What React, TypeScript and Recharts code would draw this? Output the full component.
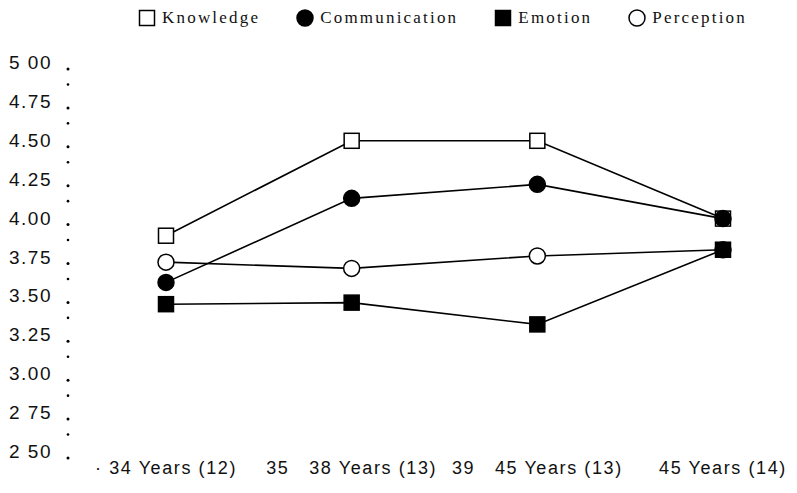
import { Legend, Line, LineChart, XAxis, YAxis } from "recharts";

const categories = ["· 34 Years (12)", "35   38 Years (13)", "39   45 Years (13)", "45 Years (14)"];
const knowledge = [3.89, 4.5, 4.5, 4.0];
const communication = [3.59, 4.13, 4.22, 4.0];
const emotion = [3.45, 3.46, 3.32, 3.8];
const perception = [3.72, 3.68, 3.76, 3.8];

const yTicks = [2.5, 2.625, 2.75, 2.875, 3.0, 3.125, 3.25, 3.375, 3.5, 3.625, 3.75, 3.875, 4.0, 4.125, 4.25, 4.375, 4.5, 4.625, 4.75, 4.875, 5.0];
const yLabels: Record<string, string> = {
  "2.5": "2 50",
  "2.75": "2 75",
  "3": "3.00",
  "3.25": "3.25",
  "3.5": "3.50",
  "3.75": "3.75",
  "4": "4.00",
  "4.25": "4.25",
  "4.5": "4.50",
  "4.75": "4.75",
  "5": "5 00",
};

const seriesNames = ["Knowledge", "Communication", "Emotion", "Perception"];

const data = categories.map((c, i) => ({
  name: c,
  knowledge: knowledge[i],
  communication: communication[i],
  emotion: emotion[i],
  perception: perception[i],
}));

type Kind = "openSquare" | "circle" | "square" | "openCircle";
const kinds: Kind[] = ["openSquare", "circle", "square", "openCircle"];

// drawn in this order so the filled marks sit on top where they overlap
const drawOrder = [0, 3, 1, 2];
const keys = ["knowledge", "communication", "emotion", "perception"];

function Marker({ kind, cx, cy }: { kind: Kind; cx: number; cy: number }) {
  if (kind === "openSquare" || kind === "square") {
    return (
      <rect
        x={cx - 7.5}
        y={cy - 7.5}
        width={15}
        height={15}
        fill={kind === "square" ? "#000" : "#fff"}
        stroke="#000"
        strokeWidth={1.5}
      />
    );
  }
  return (
    <circle
      cx={cx}
      cy={cy}
      r={8}
      fill={kind === "circle" ? "#000" : "#fff"}
      stroke="#000"
      strokeWidth={1.5}
    />
  );
}

function makeDot(kind: Kind) {
  return (props: any) => {
    const { cx, cy, index } = props;
    if (cx == null || cy == null) return <g key={index} />;
    return (
      <g key={`${kind}-${index}`}>
        <Marker kind={kind} cx={cx} cy={cy} />
      </g>
    );
  };
}

function YTick(props: any) {
  const { x, y, payload } = props;
  const label = yLabels[String(payload.value)];
  if (!label) {
    return <circle cx={x - 4} cy={y + 2} r={1.3} fill="#000" />;
  }
  return (
    <g>
      <text
        x={x - 20}
        y={y}
        dy={6}
        textAnchor="end"
        fontFamily="Liberation Sans, Arial, sans-serif"
        fontSize={19}
        letterSpacing={1.5}
        fill="#111"
      >
        {label}
      </text>
      <circle cx={x - 4} cy={y + 6} r={1.5} fill="#000" />
    </g>
  );
}

function XTick(props: any) {
  const { x, y, payload } = props;
  return (
    <text
      x={x}
      y={y}
      dy={14}
      textAnchor="middle"
      fontFamily="Liberation Sans, Arial, sans-serif"
      fontSize={18}
      letterSpacing={1.6}
      fill="#111"
      style={{ whiteSpace: "pre" }}
    >
      {payload.value}
    </text>
  );
}

function LegendContent() {
  return (
    <div
      style={{
        display: "flex",
        alignItems: "center",
        fontFamily: "Liberation Serif, Times New Roman, serif",
        fontSize: 17,
        letterSpacing: 2.2,
        color: "#111",
        whiteSpace: "nowrap",
      }}
    >
      {seriesNames.map((n, i) => (
        <span
          key={n}
          style={{ display: "flex", alignItems: "center", marginRight: 36 }}
        >
          <svg width={18} height={18} style={{ marginRight: 6 }}>
            <Marker kind={kinds[i]} cx={9} cy={9} />
          </svg>
          {n}
        </span>
      ))}
    </div>
  );
}

export default function App() {
  return (
    <div style={{ position: "absolute", left: 0, top: 0, background: "#fff" }}>
      <LineChart
        width={797}
        height={493}
        data={data}
        margin={{ top: 63, right: 10, bottom: 11, left: 0 }}
      >
        <XAxis
          dataKey="name"
          axisLine={false}
          tickLine={false}
          height={30}
          interval={0}
          padding={{ left: 86, right: 64 }}
          tick={<XTick />}
        />
        <YAxis
          type="number"
          domain={[2.5, 5]}
          ticks={yTicks}
          interval={0}
          axisLine={false}
          tickLine={false}
          width={80}
          tick={<YTick />}
        />
        <Legend
          layout="horizontal"
          verticalAlign="middle"
          align="center"
          content={<LegendContent />}
          wrapperStyle={{ position: "absolute", top: 8, left: 138, width: 660 }}
        />
        {drawOrder.map((i) => (
          <Line
            key={keys[i]}
            dataKey={keys[i]}
            name={seriesNames[i]}
            type="linear"
            stroke="#000"
            strokeWidth={1.6}
            dot={makeDot(kinds[i])}
            activeDot={false}
            isAnimationActive={false}
          />
        ))}
      </LineChart>
    </div>
  );
}
